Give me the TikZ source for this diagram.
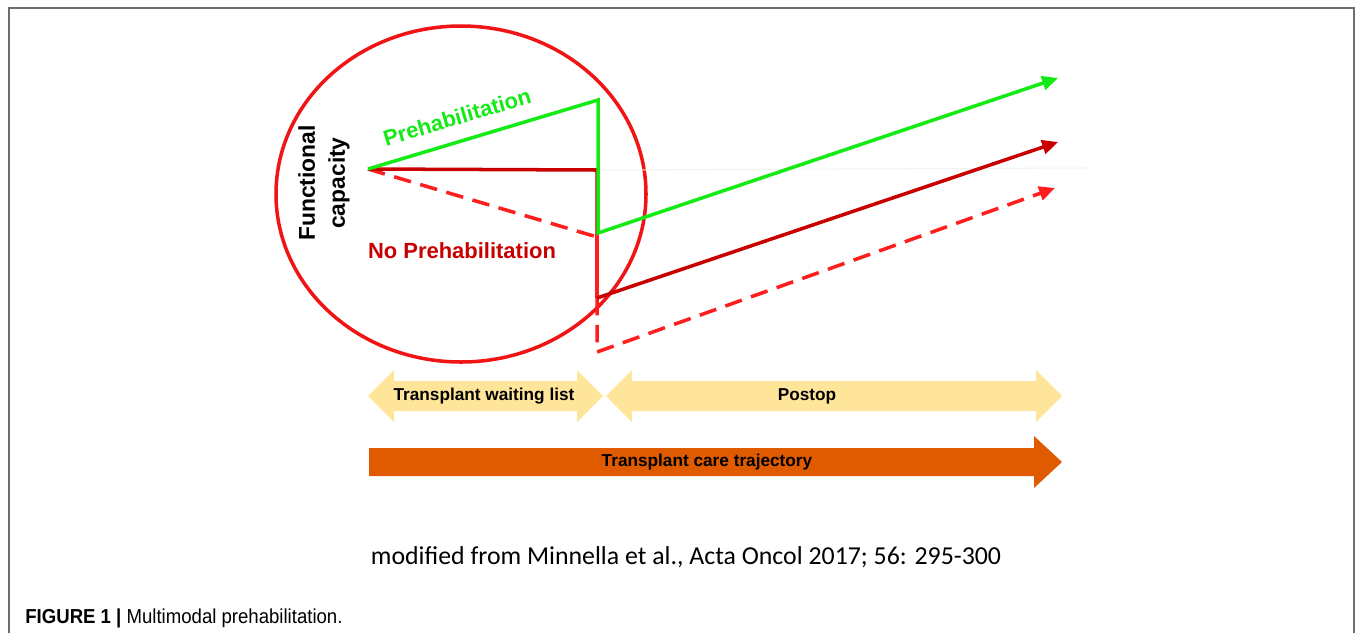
\documentclass[tikz,border=0pt]{standalone}
\usepackage{fontspec}
\setmainfont{Liberation Sans}
\newfontfamily\citefont{Carlito}
\newfontfamily\capfont[FakeStretch=0.92]{Liberation Sans}
\usetikzlibrary{arrows.meta}
\definecolor{prehabgreen}{RGB}{20,235,20}
\definecolor{noprehabred}{RGB}{200,0,0}
\definecolor{circlered}{RGB}{240,20,20}
\definecolor{dashred}{RGB}{255,30,30}
\definecolor{phaseyellow}{RGB}{255,229,153}
\definecolor{careorange}{RGB}{224,90,0}
\definecolor{framegray}{RGB}{110,110,110}

\begin{document}
\begin{tikzpicture}[x=0.02cm,y=-0.02cm,
  trend/.style={line width=2pt,line join=miter},
  tip/.style={-{Triangle[length=9pt,width=8pt]}},
  curvelabel/.style={font=\bfseries\fontsize{12.5}{15}\selectfont,inner sep=0pt},
  phase/.style={font=\bfseries\fontsize{9.8}{12}\selectfont,inner sep=0pt},
]
\useasboundingbox (0,0) rectangle (1355,633);

%% ── Frame ───────────────────────────────────────────────────────────────
\draw[framegray,line width=1pt] (9,633) -- (9,8) -- (1354,8) -- (1354,633);

%% ── Key points of the trajectories ──────────────────────────────────────
\coordinate (start)     at (368,169);
\coordinate (greentop)  at (598,100);
\coordinate (greenlow)  at (598,233);
\coordinate (greenend)  at (1058,78);
\coordinate (redmid)    at (597,170);
\coordinate (redlow)    at (597,298);
\coordinate (redend)    at (1058,142);
\coordinate (dashmid)   at (597,237);
\coordinate (dashlow)   at (597,352);
\coordinate (dashend)   at (1055,188);

%% ── Waiting-list circle ─────────────────────────────────────────────────
\draw[circlered,line width=2pt] (461,194) ellipse [x radius=185,y radius=168];

%% faint reference line
\draw[gray!10,line width=0.6pt] (redmid) -- (1088,168);

%% ── Trajectories ────────────────────────────────────────────────────────
\draw[trend,dashred,dash pattern=on 10pt off 5.5pt,tip]
  (start) -- (dashmid) -- (dashlow) -- (dashend);
\draw[trend,noprehabred] (start) -- (redmid) -- (redlow);
\draw[trend,dashred] (597,234) -- (redlow);
\draw[trend,noprehabred,tip] (redlow) -- (redend);
\draw[trend,prehabgreen,tip]
  (start) -- (greentop) -- (greenlow) -- (greenend);

%% ── Labels ──────────────────────────────────────────────────────────────
\node[curvelabel,prehabgreen,rotate=16.5] (prehab) at (457,117) {Prehabilitation};
\node[curvelabel,noprehabred] (noprehab) at (462,251) {No Prehabilitation};
\node[curvelabel,rotate=90,align=center,font=\bfseries\fontsize{13}{17}\selectfont]
  (capacity) at (324,183) {Functional\\capacity};

%% ── Phase arrows ────────────────────────────────────────────────────────
\fill[phaseyellow] (368,396) -- (394,370) -- (394,381) -- (577,381) -- (577,370)
  -- (603,396) -- (577,422) -- (577,411) -- (394,411) -- (394,422) -- cycle;
\fill[phaseyellow] (606,396) -- (632,370) -- (632,381) -- (1036,381) -- (1036,370)
  -- (1062,396) -- (1036,422) -- (1036,411) -- (632,411) -- (632,422) -- cycle;
\node[phase] (waiting) at (484,396) {Transplant waiting list};
\node[phase] (postop)  at (807,396) {Postop};

%% ── Care trajectory ─────────────────────────────────────────────────────
\fill[careorange] (369,448) -- (1034,448) -- (1034,436) -- (1062,462)
  -- (1034,488) -- (1034,476) -- (369,476) -- cycle;
\node[phase] (care) at (707,462) {Transplant care trajectory};

%% ── Source and caption ──────────────────────────────────────────────────
\node[font=\citefont\fontsize{14.7}{17}\selectfont,inner sep=0pt] (source) at (686,557)
  {modified from Minnella et al., Acta Oncol 2017; 56: 295-300};
\node[anchor=base west,inner sep=0pt,font=\capfont\fontsize{11.5}{13}\selectfont]
  (caption) at (25,623) {\textbf{FIGURE 1 |} Multimodal prehabilitation.};

\end{tikzpicture}
\end{document}
